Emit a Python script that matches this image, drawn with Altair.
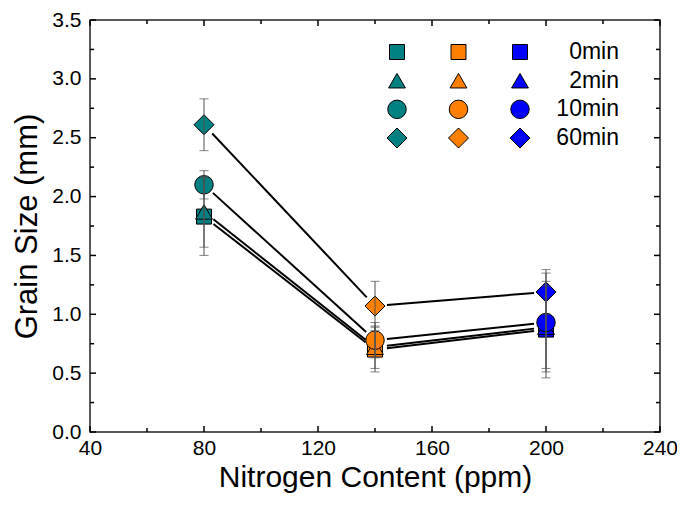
import math
import altair as alt
import pandas as pd

# ---- data ----
nitrogen = [80, 140, 200]
groups = ["teal", "orange", "blue"]          # colour used at each nitrogen level
times = ["0min", "2min", "10min", "60min"]

gs_0 = [1.83, 0.70, 0.87]
gs_2 = [1.87, 0.72, 0.89]
gs_10 = [2.10, 0.78, 0.93]
gs_60 = [2.61, 1.07, 1.19]

err_0 = [0.33, 0.19, 0.41]
err_2 = [0.30, 0.18, 0.35]
err_10 = [0.12, 0.15, 0.42]
err_60 = [0.22, 0.21, 0.19]

x_major = [40, 80, 120, 160, 200, 240]
x_minor = [60, 100, 140, 180, 220]
y_major = [0.0, 0.5, 1.0, 1.5, 2.0, 2.5, 3.0, 3.5]
y_minor = [0.25, 0.75, 1.25, 1.75, 2.25, 2.75, 3.25]

colors = ["#008080", "#FF8000", "#0000FF"]
shapes = ["square", "triangle-up", "circle", "diamond"]
sizes = [225, 400, 289, 484]

# ---- layout ----
W, H = 570, 412
XMIN, XMAX, YMIN, YMAX = 40, 240, 0.0, 3.5
PX_X = W / (XMAX - XMIN)
PX_Y = H / (YMAX - YMIN)
GAP = 12  # px gap between connecting line and marker

series = {"0min": (gs_0, err_0), "2min": (gs_2, err_2),
          "10min": (gs_10, err_10), "60min": (gs_60, err_60)}

rows, segs = [], []
for t in times:
    vals, errs = series[t]
    for n, g, v, e in zip(nitrogen, groups, vals, errs):
        rows.append({"N": n, "grp": g, "time": t, "gs": v, "lo": v - e, "hi": v + e})
    for i in range(len(nitrogen) - 1):
        x0, y0, x1, y1 = nitrogen[i], vals[i], nitrogen[i + 1], vals[i + 1]
        L = math.hypot((x1 - x0) * PX_X, (y1 - y0) * PX_Y)
        f = GAP / L
        segs.append({"time": t,
                     "xs": x0 + f * (x1 - x0), "ys": y0 + f * (y1 - y0),
                     "xe": x1 - f * (x1 - x0), "ye": y1 - f * (y1 - y0)})
df = pd.DataFrame(rows)
seg_df = pd.DataFrame(segs)

FONT = "Liberation Sans"

xs = alt.Scale(domain=[XMIN, XMAX], nice=False, zero=False)
ys = alt.Scale(domain=[YMIN, YMAX], nice=False, zero=False)

x_axis = alt.Axis(
    values=x_major, labelFontSize=21, labelPadding=5, labelFlush=False, labelOverlap=False,
    title="Nitrogen Content (ppm)", titleFontSize=30, titlePadding=4)
y_axis = alt.Axis(
    values=y_major, format=".1f", labelFontSize=21, labelPadding=9, labelFlush=False,
    labelOverlap=False, title="Grain Size (mm)", titleFontSize=31, titlePadding=8)


def X(field):
    return alt.X(field, scale=xs, axis=x_axis)


def Y(field):
    return alt.Y(field, scale=ys, axis=y_axis)


base = alt.Chart(df)

lines = alt.Chart(seg_df).mark_rule(color="black", strokeWidth=2).encode(
    x=X("xs:Q"), y=Y("ys:Q"), x2="xe:Q", y2="ye:Q")

errbars = base.mark_rule(color="#505050", strokeWidth=1).encode(
    x=X("N:Q"), y=Y("lo:Q"), y2="hi:Q")
cap_lo = base.mark_tick(color="#505050", thickness=1, size=9, orient="horizontal").encode(
    x=X("N:Q"), y=Y("lo:Q"))
cap_hi = base.mark_tick(color="#505050", thickness=1, size=9, orient="horizontal").encode(
    x=X("N:Q"), y=Y("hi:Q"))

color_enc = alt.Color("grp:N", scale=alt.Scale(domain=groups, range=colors), legend=None)
shape_enc = alt.Shape("time:N", scale=alt.Scale(domain=times, range=shapes), legend=None)
size_enc = alt.Size("time:O", sort=times, scale=alt.Scale(domain=times, range=sizes), legend=None)

points = base.mark_point(filled=True, opacity=1, stroke="black", strokeWidth=1).encode(
    x=X("N:Q"), y=Y("gs:Q"), color=color_enc, shape=shape_enc, size=size_enc)


# inward ticks on all four sides
def xticks(vals, length):
    d = pd.DataFrame({"v": vals})
    bot = alt.Chart(d).mark_rule(color="black", strokeWidth=1.5).encode(
        x=X("v:Q"), y=alt.value(H), y2=alt.value(H - length))
    top = alt.Chart(d).mark_rule(color="black", strokeWidth=1.5).encode(
        x=X("v:Q"), y=alt.value(0), y2=alt.value(length))
    return [bot, top]


def yticks(vals, length):
    d = pd.DataFrame({"v": vals})
    left = alt.Chart(d).mark_rule(color="black", strokeWidth=1.5).encode(
        y=Y("v:Q"), x=alt.value(0), x2=alt.value(length))
    right = alt.Chart(d).mark_rule(color="black", strokeWidth=1.5).encode(
        y=Y("v:Q"), x=alt.value(W), x2=alt.value(W - length))
    return [left, right]


ticks = xticks(x_major, 6) + xticks(x_minor, 4) + yticks(y_major, 6) + yticks(y_minor, 4)

main = alt.layer(points, lines, errbars, cap_lo, cap_hi, *ticks)

# manual legend (3 colour columns x 4 symbol rows)
leg_df = pd.DataFrame([{"grp": g, "time": t} for t in times for g in groups])
lab_df = pd.DataFrame({"time": times})
lx = alt.X("grp:N", scale=alt.Scale(domain=groups, range=[307, 430], padding=0), axis=None)
ly = alt.Y("time:N", scale=alt.Scale(domain=times, range=[32, 118], padding=0), axis=None)
leg_pts = alt.Chart(leg_df).mark_point(filled=True, opacity=1, stroke="black", strokeWidth=1).encode(
    x=lx, y=ly, color=color_enc, shape=shape_enc, size=size_enc)
leg_txt = alt.Chart(lab_df).mark_text(align="right", baseline="middle", fontSize=23,
                                      font=FONT, color="black").encode(
    x=alt.value(529), y=ly, text="time:N")
legend = alt.layer(leg_pts, leg_txt)

chart = alt.layer(main, legend).resolve_scale(x="independent", y="independent").properties(
    width=W, height=H,
    autosize=alt.AutoSizeParams(type="none"),
    padding={"left": 82, "top": 12, "right": 17, "bottom": 64},
).configure_view(stroke="#222222", strokeWidth=1.5).configure_axis(
    labelFont=FONT, titleFont=FONT, labelColor="black", titleColor="black",
    domain=False, ticks=False, grid=False, titleFontWeight="normal")

chart.save("out.html", embed_options={"renderer": "svg", "actions": False})
